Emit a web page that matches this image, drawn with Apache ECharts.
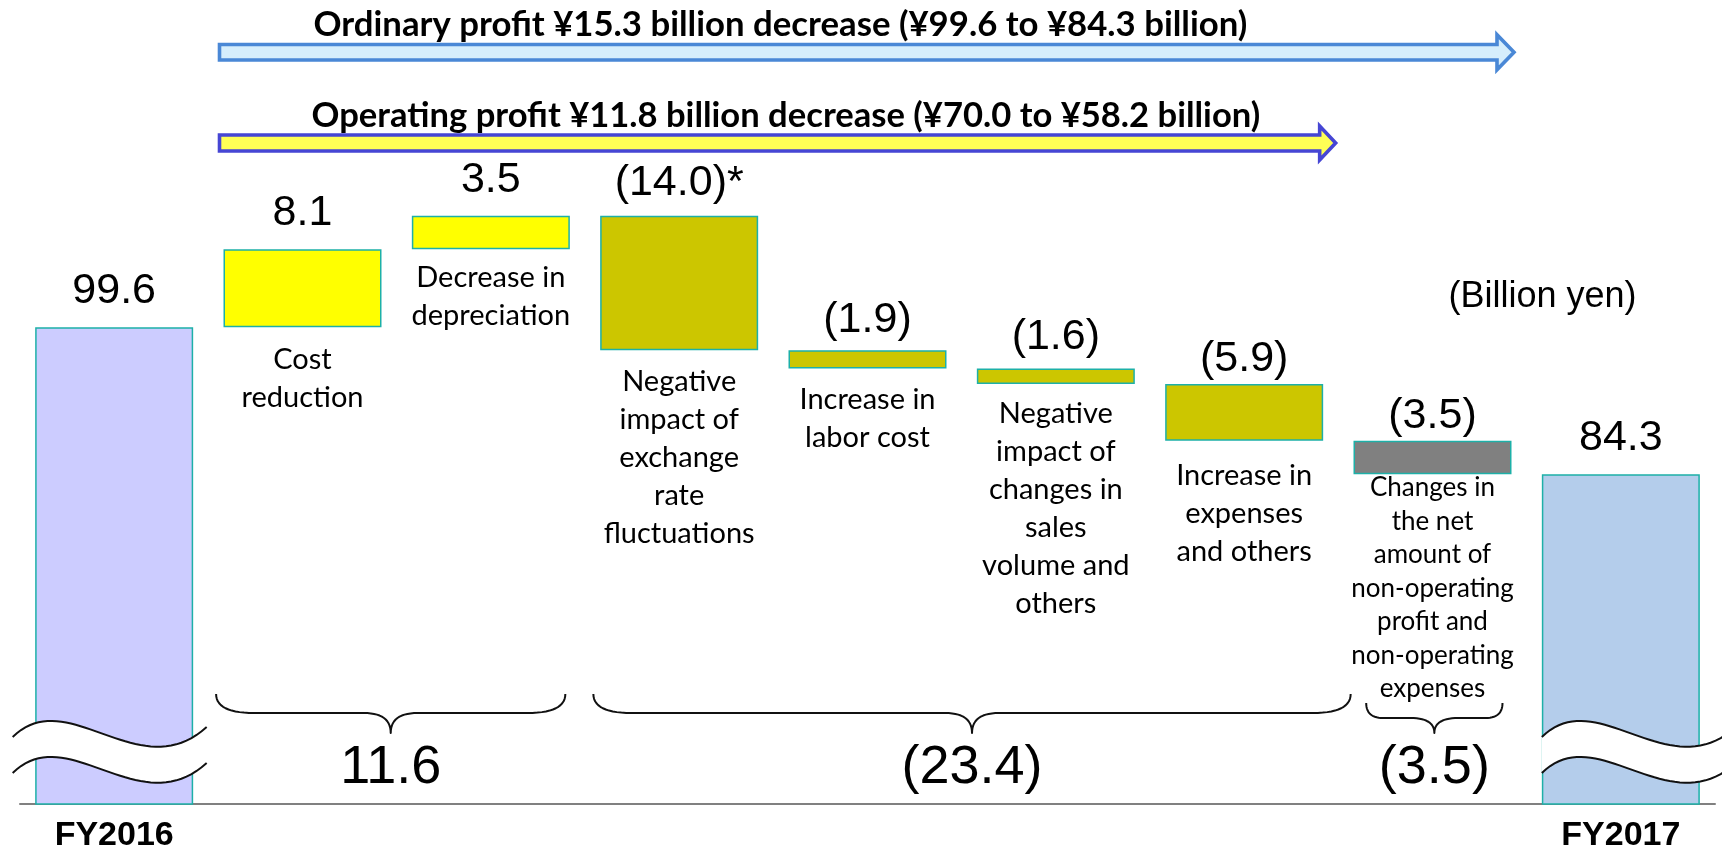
<!DOCTYPE html>
<html><head><meta charset="utf-8">
<script src="https://cdn.jsdelivr.net/npm/echarts@6/dist/echarts.min.js"></script>
<style>html,body{margin:0;padding:0;background:#fff;}#c{width:1722px;height:851px;}</style>
</head><body><div id="c"></div>
<script>
// ---------------- data ----------------
const categories = ['FY2016', 'Cost reduction', 'Decrease in depreciation',
  'Negative impact of exchange rate fluctuations', 'Increase in labor cost',
  'Negative impact of changes in sales volume and others', 'Increase in expenses and others',
  'Changes in the net amount of non-operating profit and non-operating expenses', 'FY2017'];
const categoryLines = ['FY2016', 'Cost\nreduction', 'Decrease in\ndepreciation',
  'Negative\nimpact of\nexchange\nrate\nfluctuations', 'Increase in\nlabor cost',
  'Negative\nimpact of\nchanges in\nsales\nvolume and\nothers', 'Increase in\nexpenses\nand others',
  'Changes in\nthe net\namount of\nnon-operating\nprofit and\nnon-operating\nexpenses', 'FY2017'];
const startValue = 99.6;
const changeValues = [8.1, 3.5, -14.0, -1.9, -1.6, -5.9, -3.5];
const endValue = 84.3;
const noteMarks = ['', '', '', '*', '', '', '', '', ''];
const barKinds = ['total', 'operating', 'operating', 'operating', 'operating', 'operating', 'operating', 'nonOperating', 'total'];
const groupRanges = [[1, 2], [3, 6], [7, 7]];
const unitLabel = '(Billion yen)';
const ordinaryTitle = 'Ordinary profit ¥15.3 billion decrease (¥99.6 to ¥84.3 billion)';
const operatingTitle = 'Operating profit ¥11.8 billion decrease (¥70.0 to ¥58.2 billion)';
const axisMin = 50, axisMax = 130;

// ---------------- styles ----------------
const valueLabelGap = [14.6, 14.4, 14.2, 11.2, 8.2, 9.8, 3.4, 3.2, 14.7];
const descGap = [0, 13.6, 9.6, 12.6, 11.6, 10.3, 16, -3, 0];
const totalColors = ['#CCCCFF', '#B4CDEB'];
const upColor = '#FFFF00', downColor = '#CCC600', nonOpColor = '#808080';
const borderTeal = '#1DB0A8';
const NUM_FONT = '"Liberation Sans", Arial, Helvetica, sans-serif';
const TXT_FONT = 'Lato, "Open Sans", sans-serif';

// ---------------- build waterfall ----------------
const r1 = v => Math.round(v * 10) / 10;
const baseVals = [0], barVals = [startValue], signedVals = [startValue];
let run = startValue;
changeValues.forEach(c => {
  const next = r1(run + c);
  baseVals.push(Math.min(run, next));
  barVals.push(Math.abs(c));
  signedVals.push(c);
  run = next;
});
baseVals.push(0); barVals.push(endValue); signedVals.push(endValue);
const fmt = v => v < 0 ? '(' + (-v).toFixed(1) + ')' : v.toFixed(1);

function barColor(i) {
  if (barKinds[i] === 'total') return i === 0 ? totalColors[0] : totalColors[1];
  if (barKinds[i] === 'nonOperating') return nonOpColor;
  return signedVals[i] >= 0 ? upColor : downColor;
}

const BAR_W = 158;
const chart = echarts.init(document.getElementById('c'), null, {renderer: 'canvas'});
const option = {
  animation: false,
  backgroundColor: '#fff',
  grid: {left: 20, right: 7, top: 35, bottom: 47, containLabel: false, outerBoundsMode: 'none'},
  tooltip: {show: false},
  xAxis: {
    type: 'category', data: categories,
    axisLine: {lineStyle: {color: '#808080', width: 2}},
    axisTick: {show: false},
    splitLine: {show: false},
    axisLabel: {
      interval: 0, margin: 15, color: '#000', fontFamily: NUM_FONT, fontWeight: 'bold', fontSize: 34,
      formatter: (v, i) => barKinds[i] === 'total' ? v : ''
    }
  },
  yAxis: {type: 'value', min: axisMin, max: axisMax, show: false, splitLine: {show: false}},
  series: [
    {
      type: 'bar', stack: 'w', barWidth: BAR_W, silent: true,
      itemStyle: {color: 'rgba(0,0,0,0)', borderWidth: 0},
      emphasis: {disabled: true},
      data: baseVals.map((v, i) => ({
        value: v,
        label: {
          show: barKinds[i] !== 'total', position: 'insideTop', distance: descGap[i],
          formatter: categoryLines[i], color: '#000', fontFamily: TXT_FONT,
          fontSize: i === 7 ? 26 : 29, lineHeight: i === 7 ? 33.5 : 38, align: 'center'
        }
      }))
    },
    {
      type: 'bar', stack: 'w', barWidth: BAR_W, silent: true,
      emphasis: {disabled: true},
      data: barVals.map((v, i) => ({
        value: v,
        itemStyle: {color: barColor(i), borderColor: borderTeal, borderWidth: 1.5},
        label: {
          show: true, position: 'top', distance: valueLabelGap[i],
          formatter: fmt(signedVals[i]) + noteMarks[i],
          color: '#000', fontFamily: NUM_FONT, fontSize: 43
        }
      }))
    }
  ]
};
chart.setOption(option);

// ---------------- annotations ----------------
const ctx = document.createElement('canvas').getContext('2d');
function fitSize(text, font, target) {
  ctx.font = 'bold 100px ' + font;
  return 100 * target / ctx.measureText(text).width;
}
const px = (i, v) => chart.convertToPixel({gridIndex: 0}, [i, v]);
const cx = i => px(i, axisMin)[0];
const axisY = px(0, axisMin)[1];
const half = BAR_W / 2;
const G = [];

function cubicPts(p0, p1, p2, p3, n) {
  const out = [];
  for (let k = 0; k <= n; k++) {
    const t = k / n, u = 1 - t;
    out.push([u * u * u * p0[0] + 3 * u * u * t * p1[0] + 3 * u * t * t * p2[0] + t * t * t * p3[0],
              u * u * u * p0[1] + 3 * u * u * t * p1[1] + 3 * u * t * t * p2[1] + t * t * t * p3[1]]);
  }
  return out;
}
function quadPts(p0, p1, p2, n) {
  const out = [];
  for (let k = 0; k <= n; k++) {
    const t = k / n, u = 1 - t;
    out.push([u * u * p0[0] + 2 * u * t * p1[0] + t * t * p2[0], u * u * p0[1] + 2 * u * t * p1[1] + t * t * p2[1]]);
  }
  return out;
}

// arrows
const arrowLeft = cx(1) - half - 4;
function arrowPts(xl, tip, yc, shaftH, headH, headL) {
  return [[xl, yc - shaftH / 2], [tip - headL, yc - shaftH / 2], [tip - headL, yc - headH / 2], [tip, yc],
    [tip - headL, yc + headH / 2], [tip - headL, yc + shaftH / 2], [xl, yc + shaftH / 2]];
}
G.push({type: 'polygon', z: 100, silent: true,
  shape: {points: arrowPts(arrowLeft, cx(7) + half + 2.5, 52.3, 15.5, 35, 17)},
  style: {fill: '#D6EEFC', stroke: '#4A88D6', lineWidth: 3.6, lineJoin: 'miter'}});
G.push({type: 'polygon', z: 100, silent: true,
  shape: {points: arrowPts(arrowLeft, cx(6) + half + 12.5, 143, 16, 34, 16)},
  style: {fill: '#FFFF55', stroke: '#4646D4', lineWidth: 3.6, lineJoin: 'miter'}});

// titles
const fs1 = fitSize(ordinaryTitle, TXT_FONT, 934);
const fs2 = fitSize(operatingTitle, TXT_FONT, 949);
G.push({type: 'text', z: 100, silent: true, x: arrowLeft + 94, y: 38 - 0.387 * fs1,
  style: {text: ordinaryTitle, font: 'bold ' + fs1.toFixed(2) + 'px ' + TXT_FONT, fill: '#000', align: 'left', verticalAlign: 'middle'}});
G.push({type: 'text', z: 100, silent: true, x: arrowLeft + 92, y: 129 - 0.387 * fs2,
  style: {text: operatingTitle, font: 'bold ' + fs2.toFixed(2) + 'px ' + TXT_FONT, fill: '#000', align: 'left', verticalAlign: 'middle'}});

// unit label
G.push({type: 'text', z: 100, silent: true, x: cx(7) + 110, y: 297,
  style: {text: unitLabel, font: '36px ' + NUM_FONT, fill: '#000', align: 'center', verticalAlign: 'middle'}});

// axis breaks on total bars
const waveShape = [[0, 0], [55, -54], [127, 51], [194, -10]];
const breakAnchors = [[0, -101.5], [8, -79]];
breakAnchors.forEach(([ci, dx]) => {
  const ax = cx(ci) + dx, ay = axisY - 67;
  const P = waveShape.map(([a, b]) => [ax + a, ay + b]);
  const Q = waveShape.map(([a, b]) => [ax + a, ay + b + 36]);
  const top = cubicPts(P[0], P[1], P[2], P[3], 40);
  const bot = cubicPts(Q[0], Q[1], Q[2], Q[3], 40);
  G.push({type: 'polygon', z: 100, silent: true, shape: {points: top.concat(bot.slice().reverse())},
    style: {fill: '#fff', stroke: null, lineWidth: 0}});
  [top, bot].forEach(W => {
    G.push({type: 'polyline', z: 101, silent: true, shape: {points: W},
      style: {fill: null, stroke: '#111', lineWidth: 2}});
  });
});

// braces + group totals
const braceStyle = [
  {l: -7.4, r: -4.5, yEnd: 110, yH: 91, corner: 38, tipW: 27},
  {l: -6.8, r: 27.5, yEnd: 110, yH: 91, corner: 38, tipW: 27},
  {l: 12.7, r: -9, yEnd: 101, yH: 86, corner: 17, tipW: 24}
];
groupRanges.forEach(([a, b], gi) => {
  const s = braceStyle[gi];
  const L = cx(a) - half + s.l, R = cx(b) + half + s.r, M = (L + R) / 2;
  const yE = axisY - s.yEnd, yH = axisY - s.yH, yT = axisY - 71;
  const pts = [].concat(
    quadPts([L, yE], [L, yH], [L + s.corner, yH], 14),
    quadPts([M - s.tipW, yH], [M, yH], [M, yT], 14),
    quadPts([M, yT], [M, yH], [M + s.tipW, yH], 14),
    quadPts([R - s.corner, yH], [R, yH], [R, yE], 14)
  );
  G.push({type: 'polyline', z: 100, silent: true, shape: {points: pts},
    style: {fill: null, stroke: '#111', lineWidth: 2, lineJoin: 'round'}});
  let total = 0;
  for (let k = a; k <= b; k++) total += changeValues[k - 1];
  G.push({type: 'text', z: 100, silent: true, x: M, y: axisY - 36,
    style: {text: fmt(r1(total)), font: '54px ' + NUM_FONT, fill: '#000', align: 'center', verticalAlign: 'middle'}});
});

chart.setOption({graphic: {elements: G}});
</script>
</body></html>
